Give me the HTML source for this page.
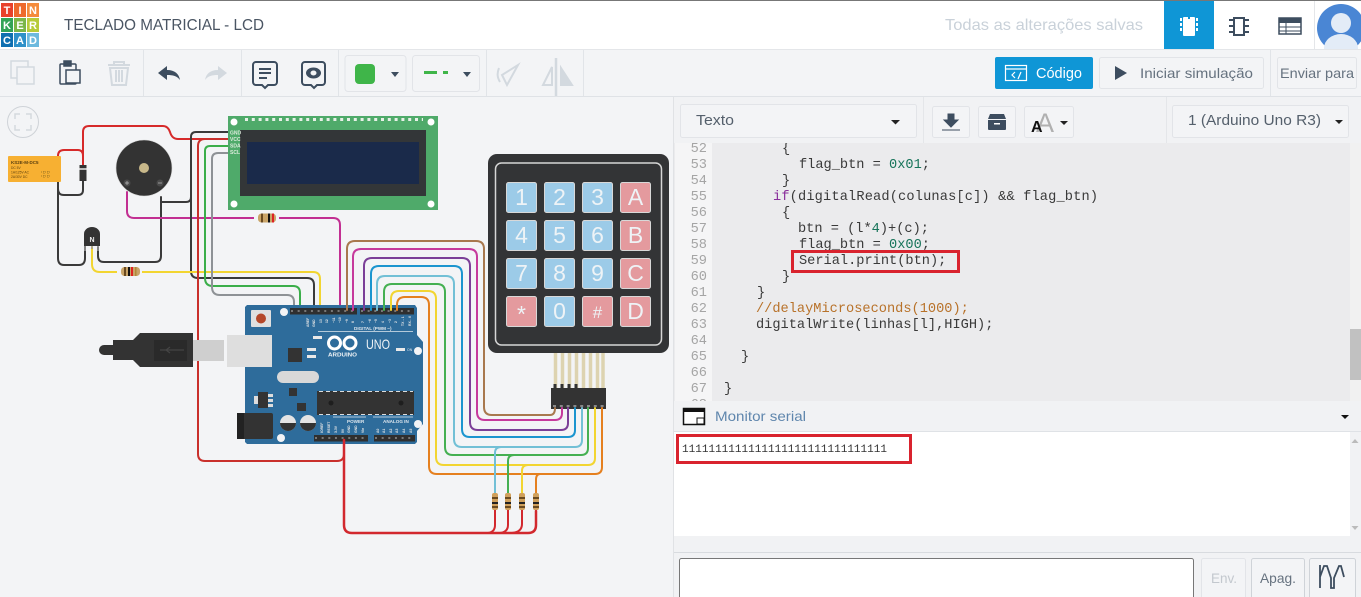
<!DOCTYPE html>
<html><head><meta charset="utf-8"><title>TECLADO MATRICIAL - LCD</title>
<style>
html,body{margin:0;padding:0;width:1361px;height:597px;overflow:hidden;background:#f3f4f6}
svg{display:block}
text{font-family:"Liberation Sans",sans-serif}
.m{font-family:"Liberation Mono",monospace;font-size:13.65px;fill:#3a3a3a;white-space:pre}
.n{font-family:"Liberation Mono",monospace;font-size:13.65px;fill:#a5a5a5;text-anchor:end}
.w{fill:none;stroke-width:2;stroke-linecap:round}
.b{fill:#f3f4f6;stroke:#e2e4e8;stroke-width:1}
.k{fill:#eef3f6;font-size:23px;text-anchor:middle;font-weight:400}
.t{fill:#e6e6e6;font-size:3.4px;font-weight:700}
.logo{fill:#fff;font-size:11px;font-weight:700;text-anchor:middle}
</style></head><body>
<svg width="1361" height="597" viewBox="0 0 1361 597" xmlns="http://www.w3.org/2000/svg">
<rect width="1361" height="597" fill="#f3f4f6"/>

<!-- header -->
<rect width="1361" height="49" fill="#fff"/>
<rect width="1361" height="1" fill="#777"/>
<rect x="0" y="49" width="1361" height="1" fill="#e4e6e9"/>
<g>
<rect x="1" y="3" width="12" height="14" fill="#e8412b"/><rect x="14" y="3" width="12" height="14" fill="#ee6a2c"/><rect x="27" y="3" width="12" height="14" fill="#f58b3b"/>
<rect x="1" y="18" width="12" height="14" fill="#33a357"/><rect x="14" y="18" width="12" height="14" fill="#7ab648"/><rect x="27" y="18" width="12" height="14" fill="#b7cb3a"/>
<rect x="1" y="33" width="12" height="14" fill="#0f6fb0"/><rect x="14" y="33" width="12" height="14" fill="#2f91c9"/><rect x="27" y="33" width="12" height="14" fill="#6cb9de"/>
<text class="logo" x="7" y="14">T</text><text class="logo" x="20" y="14">I</text><text class="logo" x="33" y="14">N</text>
<text class="logo" x="7" y="29">K</text><text class="logo" x="20" y="29">E</text><text class="logo" x="33" y="29">R</text>
<text class="logo" x="7" y="44">C</text><text class="logo" x="20" y="44">A</text><text class="logo" x="33" y="44">D</text>
</g>
<text x="64" y="30" font-size="16" fill="#4a5563" textLength="200" lengthAdjust="spacingAndGlyphs">TECLADO MATRICIAL - LCD</text>
<text x="945" y="30" font-size="16" fill="#c9d1d9" textLength="198" lengthAdjust="spacingAndGlyphs">Todas as alterações salvas</text>
<rect x="1164" y="1" width="50" height="48" fill="#0f96d6"/>
<g fill="#fff"><rect x="1183" y="17" width="12" height="19" rx="1"/><rect x="1180" y="18" width="2" height="3"/><rect x="1180" y="23" width="2" height="3"/><rect x="1180" y="28" width="2" height="3"/><rect x="1196" y="18" width="2" height="3"/><rect x="1196" y="23" width="2" height="3"/><rect x="1196" y="28" width="2" height="3"/></g>
<rect x="1188" y="17" width="2" height="2" fill="#0f96d6"/>
<g fill="none" stroke="#3d4d5f" stroke-width="2"><rect x="1234" y="18" width="10" height="17"/><path d="M1229 20h5M1229 26h5M1229 32h5M1244 20h5M1244 26h5M1244 32h5"/></g>
<g><rect x="1279" y="18" width="22" height="16" fill="#fff" stroke="#3d4d5f" stroke-width="1.5"/><rect x="1279" y="18" width="22" height="5" fill="#3d4d5f"/><path d="M1279 27h22M1279 31h22M1286 23v11" stroke="#3d4d5f"/></g>
<rect x="1314" y="1" width="1" height="48" fill="#e4e6e9"/>
<clipPath id="av"><rect x="1316" y="1" width="45" height="48"/></clipPath>
<g clip-path="url(#av)"><circle cx="1341" cy="28" r="24" fill="#4a86d4"/><circle cx="1341" cy="23" r="10" fill="#e3ecf7"/><ellipse cx="1341" cy="48" rx="17" ry="14" fill="#e3ecf7"/></g>

<!-- toolbar -->
<rect x="0" y="96" width="1361" height="1" fill="#dfe2e6"/>
<g fill="#e1e4e8"><rect x="143" y="50" width="1" height="46"/><rect x="241" y="50" width="1" height="46"/><rect x="338" y="50" width="1" height="46"/><rect x="486" y="50" width="1" height="46"/><rect x="583" y="50" width="1" height="46"/><rect x="1270" y="50" width="1" height="46"/></g>
<g fill="none" stroke="#d3d9df" stroke-width="1.5"><rect x="11" y="61" width="17" height="17"/><rect x="17" y="67" width="17" height="17" fill="#f3f4f6"/></g>
<g fill="none" stroke="#3d4d5f" stroke-width="1.5"><rect x="60" y="64" width="16" height="20" rx="1"/><rect x="66" y="70" width="14" height="13" fill="#f3f4f6"/><rect x="64" y="61" width="7" height="5" fill="#3d4d5f"/></g>
<g fill="none" stroke="#d3d9df" stroke-width="2"><path d="M108 65h22M114 65v-3h10v3"/><path d="M110 68l2 17h14l2-17zM116 70v12M119 70v12M122 70v12"/></g>
<path d="M158 73l9-7v4c8 0 12 4 13 10-3-4-7-5-13-5v5z" fill="#3d4d5f"/>
<path d="M227 73l-9-7v4c-8 0-12 4-13 10 3-4 7-5 13-5v5z" fill="#d3d9df"/>
<g fill="none" stroke="#3d4d5f" stroke-width="2"><path d="M256 62h18a3 3 0 0 1 3 3v17a3 3 0 0 1-3 3h-6l-3 3-3-3h-6a3 3 0 0 1-3-3v-17a3 3 0 0 1 3-3z"/><path d="M259 69h12M259 73h12M259 78h8"/></g>
<g fill="none" stroke="#3d4d5f" stroke-width="2"><path d="M305 62h17a3 3 0 0 1 3 3v17a3 3 0 0 1-3 3h-5l-3 3-3-3h-6a3 3 0 0 1-3-3v-17a3 3 0 0 1 3-3z"/></g>
<ellipse cx="313.500" cy="73" rx="7.500" ry="5.500" fill="#3d4d5f"/><ellipse cx="313.500" cy="73" rx="3" ry="2.500" fill="#f3f4f6"/>
<rect class="b" x="345" y="55.500" width="61" height="36" rx="3"/><rect x="355" y="64" width="20" height="20" rx="4" fill="#3fb549"/>
<path d="M391 72h8l-4 5z" fill="#3d4d5f"/>
<rect class="b" x="412.500" y="55.500" width="67" height="36" rx="3"/><rect x="424" y="71" width="13" height="3" fill="#3fb549"/><rect x="443" y="71" width="5" height="3" fill="#3fb549"/>
<path d="M463 72h8l-4 5z" fill="#3d4d5f"/>
<g fill="none" stroke="#d3d9df" stroke-width="2"><path d="M518 65l-11 20-5-10zM499 68c-2 5-2 9 1 14"/></g>
<g fill="none" stroke="#d3d9df" stroke-width="2"><path d="M556 58v38" stroke-width="2.500"/><path d="M552 67v18h-9z"/><path d="M561 68l11 17h-11z" fill="#d3d9df"/></g>
<rect x="995" y="57" width="98" height="32" rx="2" fill="#0f96d6"/>
<g fill="none" stroke="#fff" stroke-width="1.200"><rect x="1005.500" y="65.500" width="21" height="15"/><path d="M1005 69h22M1015 72l-3 3 3 3M1018 79l3-7"/></g>
<text x="1036" y="78" font-size="15" fill="#fff" textLength="46" lengthAdjust="spacingAndGlyphs">Código</text>
<rect class="b" x="1099.500" y="57.500" width="164" height="31" rx="2"/>
<path d="M1115 66l12 7-12 7z" fill="#3d4d5f"/>
<text x="1140" y="78" font-size="14" fill="#66727f" textLength="113" lengthAdjust="spacingAndGlyphs">Iniciar simulação</text>
<rect class="b" x="1277.500" y="57.500" width="79" height="31" rx="2"/>
<text x="1280" y="78" font-size="14" fill="#66727f" textLength="74" lengthAdjust="spacingAndGlyphs">Enviar para</text>

<!-- wires on canvas: left -->
<g class="wires">
<path class="w" stroke="#3a3a3a" d="M161 197V256Q161 262 155 262H104Q98 262 98 256V247"/>
<path class="w" stroke="#3a3a3a" d="M58 182V258Q58 265 64 265H79Q85 265 85 258V246"/>
<path class="w" stroke="#3a3a3a" d="M58 182V189Q58 195 64 195H78Q83 195 83 190V181"/>
<path class="w" stroke="#d62a2a" d="M58 156Q58 150 64 150H78Q83 150 83 156V165"/>
<path class="w" stroke="#d62a2a" d="M83 160V132Q83 126 89 126H163Q168 126 170 132Q172 139 178 139H228"/>
<path class="w" stroke="#c22f92" d="M127 192V211Q127 218 134 218H333Q340 218 340 225V308"/>
<path class="w" stroke="#3a3a3a" d="M161 202H186Q191 202 191 197V137Q191 132 196 132H228"/>
<path class="w" stroke="#3a3a3a" d="M191 197V271Q191 278 198 278H307Q314 278 314 285V308"/>
<path class="w" stroke="#f2d531" d="M92 247V264Q92 272 100 272H313Q320 272 320 279V308"/>
<path class="w" stroke="#3bae4a" d="M228 146H210Q205 146 205 151V278Q205 286 213 286H293Q300 286 300 293V308"/>
<path class="w" stroke="#8e9296" d="M228 153H218Q212 153 212 159V287Q212 295 220 295H287Q294 295 294 302V308"/>
<path class="w" stroke="#c9302c" d="M228 139H205Q198 139 198 146V454Q198 461 205 461H337Q344 461 344 454V440"/>
</g>

<!-- relay, diode, buzzer, transistor -->
<rect x="8" y="156" width="53" height="26" rx="1" fill="#f7b032"/>
<text x="11" y="164" font-size="4.500" font-weight="700" fill="#5c4110">KS2E-M-DC5</text>
<text x="11" y="169" font-size="3.300" fill="#5c4110">DC 5V</text><text x="11" y="173.500" font-size="3.300" fill="#5c4110">1A/125V AC</text><text x="11" y="178" font-size="3.300" fill="#5c4110">2A/30V DC</text>
<path d="M41 172h10M41 176h10M44 171v7M48 171v7" stroke="#8a6a20" stroke-width=".7" fill="none" stroke-dasharray="1 1"/>
<rect x="79.500" y="165" width="7" height="16" fill="#333"/><rect x="79.500" y="168" width="7" height="2" fill="#bbb"/>
<circle cx="144" cy="168" r="28" fill="#333" stroke="#d5d5d5" stroke-width=".6"/>
<circle cx="144" cy="168" r="5" fill="#c8b88a"/>
<circle cx="127" cy="183" r="3.500" fill="#4a4a4a"/><path d="M125 183h4M127 181v4" stroke="#bbb" stroke-width=".7"/>
<circle cx="160" cy="183" r="3.500" fill="#4a4a4a"/><path d="M158 183h4" stroke="#bbb" stroke-width=".7"/>
<path d="M84 246V234a8 7 0 0 1 16 0v12z" fill="#333"/>
<text x="92" y="242" font-size="7" font-weight="700" fill="#eee" text-anchor="middle">N</text>
<path d="M85 246v5M92 246v3M98 246v5" stroke="#999" stroke-width="1.500"/>
<g><rect x="117" y="270.500" width="25" height="3.500" fill="#f3f4f6"/><rect x="121" y="267" width="19" height="9" rx="3.500" fill="#c9a468"/><rect x="124" y="267" width="2" height="9" fill="#6a4a20"/><rect x="128" y="267" width="2" height="9" fill="#111"/><rect x="131" y="267" width="2" height="9" fill="#d22"/><rect x="135" y="267" width="1.500" height="9" fill="#b08a3a"/></g>
<g><rect x="254" y="216" width="25" height="4" fill="#f3f4f6"/><rect x="258" y="213.500" width="18" height="9" rx="3.500" fill="#c9a468"/><rect x="261" y="213.500" width="2" height="9" fill="#6a4a20"/><rect x="268" y="213.500" width="2" height="9" fill="#111"/><rect x="272" y="213.500" width="2" height="9" fill="#d22"/></g>

<!-- fit icon -->
<circle cx="23" cy="122" r="15.500" fill="#f3f4f6" stroke="#cfd3d8"/>
<path d="M15 119v-5h5M26 114h5v5M31 125v5h-5M20 130h-5v-5" fill="none" stroke="#d5d9dd" stroke-width="1.500"/>

<!-- LCD -->
<rect x="228" y="116" width="210" height="94" fill="#4faa6a"/>
<circle cx="234" cy="122" r="3.500" fill="#fff"/><circle cx="234" cy="204" r="3.500" fill="#fff"/><circle cx="431" cy="122" r="3.500" fill="#fff"/><circle cx="431" cy="204" r="3.500" fill="#fff"/>
<rect x="240" y="130" width="186" height="66" fill="#333638"/>
<rect x="247" y="142" width="172" height="42" fill="#1a2a4a"/>
<path d="M245 119.500H423" stroke="#e8f0e8" stroke-width="3" stroke-dasharray="3 3.800"/>
<g font-size="5" font-weight="700" fill="#dcebdc"><text x="230" y="134.500">GND</text><text x="230" y="141">VCC</text><text x="230" y="147.500">SDA</text><text x="230" y="154">SCL</text></g>

<!-- USB -->
<path d="M104 345H113V340H133L140 333H193V367H140L133 360H113V355H104A5 5 0 0 1 104 345z" fill="#333"/>
<rect x="154" y="340" width="33" height="21" fill="#2a2a2a"/>
<path d="M160 350h24M170 347l-4 3 4 3" stroke="#444" stroke-width="1.200" fill="none"/>
<rect x="193" y="340" width="31" height="21" fill="#cfcfcf"/>

<!-- Arduino -->
<path d="M247 305H415L417 308V335L423 342V424L417 431V442L415 444H247L245 442V307z" fill="#2e6c9b"/>
<rect x="227" y="335" width="45" height="32" fill="#dedede"/>
<rect x="237" y="413" width="36" height="26" rx="2" fill="#333"/><rect x="237" y="413" width="7" height="26" fill="#222"/>
<rect x="251" y="310" width="20" height="17" rx="1" fill="#e0e0e0"/><circle cx="261" cy="318.500" r="5" fill="#b5482a"/>
<circle cx="284" cy="312" r="4" fill="#f3f4f6"/><circle cx="281" cy="438" r="4" fill="#f3f4f6"/><circle cx="418" cy="351" r="4" fill="#f3f4f6"/><circle cx="418" cy="424" r="4" fill="#f3f4f6"/>
<rect x="290" y="308" width="67" height="6.500" fill="#2f2f2f"/><rect x="360" y="308" width="54" height="6.500" fill="#2f2f2f"/>
<path d="M291 311h65M361 311h52" stroke="#777" stroke-width="2" stroke-dasharray="2 4.650"/>
<rect x="314" y="435" width="54" height="6.500" fill="#2f2f2f"/><rect x="374" y="435" width="41" height="6.500" fill="#2f2f2f"/>
<path d="M315 438h52M375 438h39" stroke="#777" stroke-width="2" stroke-dasharray="2 4.650"/>
<rect x="288" y="348" width="14" height="14" fill="#333"/>
<rect x="277" y="371" width="42" height="12" rx="6" fill="#d8d8d8"/>
<rect x="289" y="388" width="8" height="8" fill="#333"/>
<rect x="258" y="392" width="10" height="16" fill="#333"/><rect x="254" y="396" width="4" height="8" fill="#ddd"/><rect x="268" y="394" width="5" height="3" fill="#ddd"/><rect x="268" y="399" width="5" height="3" fill="#ddd"/><rect x="268" y="404" width="5" height="3" fill="#ddd"/>
<rect x="297" y="403" width="9" height="8" fill="#333"/>
<circle cx="288" cy="423" r="8" fill="#e4e4e4"/><path d="M280 423a8 8 0 0 0 16 0z" fill="#333"/><circle cx="308" cy="423" r="8" fill="#e4e4e4"/><path d="M300 423a8 8 0 0 0 16 0z" fill="#333"/>
<rect x="317" y="391" width="97" height="24" fill="#333"/>
<path d="M319 391.500h94M319 414.500h94" stroke="#ddd" stroke-dasharray="4 3"/>
<circle cx="331" cy="403" r="2.500" fill="#1e1e1e"/><circle cx="401" cy="403" r="2.500" fill="#1e1e1e"/>
<g fill="#e9e9e9"><rect x="313" y="336" width="9" height="3"/><rect x="307" y="348" width="9" height="3"/><rect x="307" y="355" width="9" height="3"/><rect x="396" y="348" width="9" height="3"/></g>
<path d="M318 331.500H413M333 417H366M373 417H413" stroke="#dfe7ee" stroke-width=".8"/>
<g fill="none" stroke="#fff" stroke-width="3"><circle cx="334.500" cy="343" r="6"/><circle cx="350" cy="343" r="6"/></g>
<text x="328" y="356.500" font-size="5.500" font-weight="700" fill="#f0f4f7" textLength="29" lengthAdjust="spacingAndGlyphs">ARDUINO</text>
<text x="366" y="349" font-size="14" fill="#eef3f6" textLength="24" lengthAdjust="spacingAndGlyphs">UNO</text>
<text x="354" y="330" font-size="4.600" font-weight="700" fill="#dfe7ee">DIGITAL (PWM ~)</text>
<text x="347" y="423" font-size="4.600" font-weight="700" fill="#dfe7ee">POWER</text>
<text x="383" y="423" font-size="4.600" font-weight="700" fill="#dfe7ee">ANALOG IN</text>
<text x="407" y="351" font-size="3.500" fill="#dfe7ee">ON</text>
<g class="t">
<text transform="translate(309 327) rotate(-90)">AREF</text><text transform="translate(315 327) rotate(-90)">GND</text><text transform="translate(322 323) rotate(-90)">13</text><text transform="translate(328 323) rotate(-90)">12</text><text transform="translate(335 323) rotate(-90)">~11</text><text transform="translate(341 323) rotate(-90)">~10</text><text transform="translate(348 323) rotate(-90)">~9</text><text transform="translate(354 323) rotate(-90)">8</text><text transform="translate(364 323) rotate(-90)">7</text><text transform="translate(371 323) rotate(-90)">~6</text><text transform="translate(377 323) rotate(-90)">~5</text><text transform="translate(384 323) rotate(-90)">4</text><text transform="translate(391 323) rotate(-90)">~3</text><text transform="translate(397 323) rotate(-90)">2</text><text transform="translate(404 326) rotate(-90)">TX→1</text><text transform="translate(411 326) rotate(-90)">RX←0</text>
<text transform="translate(323 433) rotate(-90)">IOREF</text><text transform="translate(330 433) rotate(-90)">RESET</text><text transform="translate(337 433) rotate(-90)">3.3V</text><text transform="translate(344 433) rotate(-90)">5V</text><text transform="translate(350 433) rotate(-90)">GND</text><text transform="translate(357 433) rotate(-90)">GND</text><text transform="translate(364 433) rotate(-90)">Vin</text>
<text transform="translate(379 433) rotate(-90)">A0</text><text transform="translate(385 433) rotate(-90)">A1</text><text transform="translate(392 433) rotate(-90)">A2</text><text transform="translate(398 433) rotate(-90)">A3</text><text transform="translate(405 433) rotate(-90)">A4</text><text transform="translate(412 433) rotate(-90)">A5</text>
</g>

<!-- Keypad -->
<rect x="553" y="352" width="51" height="37" fill="#f3f4f6"/>
<path d="M555.500 353V388M562.500 353V388M569.500 353V388M576.500 353V388M583.500 353V388M590.500 353V388M597.500 353V388M603 353V388" stroke="#ddd3b0" stroke-width="3.500"/>
<rect x="488" y="154" width="181" height="199" rx="9" fill="#333436"/>
<rect x="495.500" y="163" width="166" height="182" rx="6" fill="none" stroke="#d6d6d6" stroke-width="1.500"/>
<g stroke="#d8d8d8" stroke-width="1">
<rect x="506.500" y="182.500" width="30" height="30" rx="2" fill="#9ccbe8"/><rect x="544.500" y="182.500" width="30" height="30" rx="2" fill="#9ccbe8"/><rect x="582.500" y="182.500" width="30" height="30" rx="2" fill="#9ccbe8"/><rect x="620.500" y="182.500" width="30" height="30" rx="2" fill="#e49a9e"/>
<rect x="506.500" y="220.500" width="30" height="30" rx="2" fill="#9ccbe8"/><rect x="544.500" y="220.500" width="30" height="30" rx="2" fill="#9ccbe8"/><rect x="582.500" y="220.500" width="30" height="30" rx="2" fill="#9ccbe8"/><rect x="620.500" y="220.500" width="30" height="30" rx="2" fill="#e49a9e"/>
<rect x="506.500" y="258.500" width="30" height="30" rx="2" fill="#9ccbe8"/><rect x="544.500" y="258.500" width="30" height="30" rx="2" fill="#9ccbe8"/><rect x="582.500" y="258.500" width="30" height="30" rx="2" fill="#9ccbe8"/><rect x="620.500" y="258.500" width="30" height="30" rx="2" fill="#e49a9e"/>
<rect x="506.500" y="296.500" width="30" height="30" rx="2" fill="#e49a9e"/><rect x="544.500" y="296.500" width="30" height="30" rx="2" fill="#9ccbe8"/><rect x="582.500" y="296.500" width="30" height="30" rx="2" fill="#e49a9e"/><rect x="620.500" y="296.500" width="30" height="30" rx="2" fill="#e49a9e"/>
</g>
<g><text class="k" x="521.500" y="205">1</text><text class="k" x="559.500" y="205">2</text><text class="k" x="597.500" y="205">3</text><text class="k" x="635.500" y="205">A</text>
<text class="k" x="521.500" y="243">4</text><text class="k" x="559.500" y="243">5</text><text class="k" x="597.500" y="243">6</text><text class="k" x="635.500" y="243">B</text>
<text class="k" x="521.500" y="281">7</text><text class="k" x="559.500" y="281">8</text><text class="k" x="597.500" y="281">9</text><text class="k" x="635.500" y="281">C</text>
<text class="k" x="521.500" y="322">*</text><text class="k" x="559.500" y="319">0</text><text class="k" x="597.500" y="318" style="font-size:17px">#</text><text class="k" x="635.500" y="319">D</text></g>
<rect x="551" y="388" width="55" height="21" fill="#333"/>
<path d="M555 388v-4M562 388v-4M569 388v-4M576 388v-4" stroke="#333" stroke-width="3"/>
<path d="M553 406H604" stroke="#888" stroke-width="2" stroke-dasharray="3 3.800"/>

<!-- wires on canvas: Arduino to keypad -->
<path class="w" stroke="#a8784e" d="M347 310V249Q347 241 355 241H476Q484 241 484 249V407Q484 415 492 415H550Q555 415 555 408"/>
<path class="w" stroke="#c63a9c" d="M353 310V257Q353 249 361 249H469Q477 249 477 257V412Q477 420 485 420H555Q562 420 562 413V408"/>
<path class="w" stroke="#7b3f98" d="M364 310V266Q364 258 372 258H462Q470 258 470 266V422Q470 430 478 430H561Q568 430 568 423V408"/>
<path class="w" stroke="#1b95cf" d="M371 310V274Q371 266 379 266H454Q462 266 462 274V429Q462 437 470 437H568Q575 437 575 430V408"/>
<path class="w" stroke="#72c0d6" d="M377 310V284Q377 276 385 276H446Q454 276 454 284V439Q454 447 462 447H575Q582 447 582 440V408"/>
<path class="w" stroke="#45b052" d="M384 310V292Q384 284 392 284H437Q445 284 445 292V447Q445 455 453 455H581Q588 455 588 448V408"/>
<path class="w" stroke="#f2d531" d="M391 310V299Q391 291 399 291H428Q436 291 436 299V457Q436 465 444 465H588Q595 465 595 458V408"/>
<path class="w" stroke="#e5801f" d="M397 310V305Q397 297 405 297H421Q429 297 429 305V466Q429 474 437 474H595Q602 474 602 467V408"/>
<path class="w" stroke="#72c0d6" d="M495 493V453Q495 447 501 447H510"/>
<path class="w" stroke="#45b052" d="M508 493V461Q508 455 514 455H522"/>
<path class="w" stroke="#f2d531" d="M522 493V471Q522 465 528 465H534"/>
<path class="w" stroke="#e5801f" d="M536 493V480Q536 474 540 474"/>
<path class="w" stroke="#d2282e" d="M344 440V525Q344 533 352 533H528Q536 533 536 525V511" style="stroke-width:2.500"/>
<path class="w" stroke="#d2282e" d="M495 510V525Q495 532 488 533M508 510V525Q508 532 500 533M522 510V524Q522 532 512 533"/>
<g>
<rect x="492" y="493" width="6" height="17" rx="2" fill="#cfa05c"/><rect x="492" y="497" width="6" height="2" fill="#6a4a20"/><rect x="492" y="502" width="6" height="2" fill="#222"/><rect x="492" y="506" width="6" height="2" fill="#6a4a20"/>
<rect x="505" y="493" width="6" height="17" rx="2" fill="#cfa05c"/><rect x="505" y="497" width="6" height="2" fill="#6a4a20"/><rect x="505" y="502" width="6" height="2" fill="#222"/><rect x="505" y="506" width="6" height="2" fill="#6a4a20"/>
<rect x="519" y="493" width="6" height="17" rx="2" fill="#cfa05c"/><rect x="519" y="497" width="6" height="2" fill="#6a4a20"/><rect x="519" y="502" width="6" height="2" fill="#222"/><rect x="519" y="506" width="6" height="2" fill="#6a4a20"/>
<rect x="533" y="493" width="6" height="17" rx="2" fill="#cfa05c"/><rect x="533" y="497" width="6" height="2" fill="#6a4a20"/><rect x="533" y="502" width="6" height="2" fill="#222"/><rect x="533" y="506" width="6" height="2" fill="#6a4a20"/>
</g>

<!-- right panel -->
<rect x="673" y="97" width="688" height="500" fill="#f1f2f4"/>
<rect x="673" y="97" width="1" height="500" fill="#e0e2e5"/>
<rect x="923" y="97" width="1" height="46" fill="#e4e6e9"/><rect x="1166" y="97" width="1" height="46" fill="#e4e6e9"/>
<rect class="b" x="680.500" y="104.500" width="236" height="33" rx="2"/>
<text x="696" y="125" font-size="15" fill="#55606c" textLength="38" lengthAdjust="spacingAndGlyphs">Texto</text>
<path d="M891 120h9l-4.500 4.500z" fill="#222"/>
<rect class="b" x="932.500" y="106.500" width="37" height="31" rx="2"/>
<path d="M948 114h6v6h4l-7 7-7-7h4zM942 130h18" fill="#3d4d5f" stroke="#3d4d5f" stroke-width="1"/>
<rect class="b" x="978.500" y="106.500" width="37" height="31" rx="2"/>
<path d="M990 114h14l2 5h-18zM988 120h18v9a1 1 0 0 1-1 1h-16a1 1 0 0 1-1-1z" fill="#3d4d5f"/><rect x="994" y="123" width="6" height="1.500" fill="#fff"/>
<rect class="b" x="1024.500" y="106.500" width="49" height="31" rx="2"/>
<text x="1036" y="132" font-size="27" fill="#b0b0b0">A</text><text x="1031" y="132" font-size="16" font-weight="700" fill="#111">A</text>
<path d="M1060 121h8l-4 4z" fill="#222"/>
<rect class="b" x="1172.500" y="105.500" width="176" height="32" rx="2"/>
<text x="1188" y="125" font-size="14.500" fill="#55606c" textLength="133" lengthAdjust="spacingAndGlyphs">1 (Arduino Uno R3)</text>
<path d="M1335 120h8l-4 4z" fill="#222"/>

<!-- code -->
<rect x="674" y="143" width="677" height="258" fill="#ebebed"/>
<rect x="675" y="143" width="37" height="258" fill="#f5f5f6"/>
<rect x="1350" y="143" width="11" height="258" fill="#f1f1f1"/><rect x="1350" y="329" width="11" height="51" fill="#c1c1c1"/>
<clipPath id="code"><rect x="674" y="143" width="676" height="258"/></clipPath>
<g clip-path="url(#code)">
<text class="n" x="707" y="152">52</text><text class="n" x="707" y="168">53</text><text class="n" x="707" y="184">54</text><text class="n" x="707" y="200">55</text><text class="n" x="707" y="216">56</text><text class="n" x="707" y="232">57</text><text class="n" x="707" y="248">58</text><text class="n" x="707" y="264">59</text><text class="n" x="707" y="280">60</text><text class="n" x="707" y="296">61</text><text class="n" x="707" y="312">62</text><text class="n" x="707" y="328">63</text><text class="n" x="707" y="344">64</text><text class="n" x="707" y="360">65</text><text class="n" x="707" y="376">66</text><text class="n" x="707" y="392">67</text><text class="n" x="707" y="408">68</text>
<text class="m" x="782" y="152">{</text>
<text class="m" x="799" y="168">flag_btn = <tspan fill="#17745a">0x01</tspan>;</text>
<text class="m" x="782" y="184">}</text>
<text class="m" x="773" y="200" textLength="325"><tspan fill="#8a2f9c">if</tspan>(digitalRead(colunas[c]) &amp;&amp; flag_btn)</text>
<text class="m" x="782" y="216">{</text>
<text class="m" x="798" y="232">btn = (l*<tspan fill="#17745a">4</tspan>)+(c);</text>
<text class="m" x="799" y="248">flag_btn = <tspan fill="#17745a">0x00</tspan>;</text>
<text class="m" x="799" y="264">Serial.print(btn);</text>
<text class="m" x="782" y="280">}</text>
<text class="m" x="757" y="296">}</text>
<text class="m" x="756" y="312" style="fill:#b8722a">//delayMicroseconds(1000);</text>
<text class="m" x="756" y="328">digitalWrite(linhas[l],HIGH);</text>
<text class="m" x="741" y="360">}</text>
<text class="m" x="724" y="392">}</text>
</g>
<rect x="792.500" y="251.500" width="166" height="20" fill="none" stroke="#d9232e" stroke-width="3"/>

<!-- monitor -->
<rect x="674" y="401" width="687" height="30" fill="#f1f2f4"/>
<rect x="674" y="431" width="687" height="1" fill="#dfe2e6"/>
<rect x="683.500" y="408.500" width="21" height="16" fill="#fff" stroke="#111" stroke-width="1.500"/><rect x="683" y="408" width="22" height="4" fill="#111"/><rect x="697" y="418" width="7" height="6" fill="none" stroke="#111"/>
<text x="715" y="421" font-size="14" fill="#5f86ad" textLength="91" lengthAdjust="spacingAndGlyphs">Monitor serial</text>
<path d="M1341 415h8l-4 4z" fill="#111"/>
<rect x="674" y="432" width="676" height="104" fill="#fff"/>
<rect x="1350" y="432" width="11" height="104" fill="#f1f2f4"/>
<path d="M1355 439l-3.500 4h7zM1355 530l-3.500-4h7z" fill="#bbb"/>
<text x="682" y="452" font-size="11" fill="#333" textLength="205" lengthAdjust="spacingAndGlyphs" style="font-family:'Liberation Mono',monospace">1111111111111111111111111111111</text>
<rect x="677.500" y="435.500" width="233" height="27" fill="none" stroke="#d9232e" stroke-width="3"/>
<rect x="674" y="552" width="687" height="1" fill="#d8dbdf"/>
<rect x="679.500" y="558.500" width="514" height="40" rx="2" fill="#fff" stroke="#777"/>
<rect class="b" x="1201.500" y="558.500" width="44" height="40" rx="2"/>
<text x="1211" y="583" font-size="14" fill="#c3c8ce" textLength="26" lengthAdjust="spacingAndGlyphs">Env.</text>
<rect x="1251.500" y="558.500" width="53" height="40" rx="2" fill="#f3f4f6" stroke="#cfd3d8"/>
<text x="1260" y="583" font-size="14" fill="#66727f" textLength="36" lengthAdjust="spacingAndGlyphs">Apag.</text>
<rect x="1309.500" y="558.500" width="46" height="40" rx="2" fill="#f3f4f6" stroke="#cfd3d8"/>
<path d="M1320 565V588M1320 577L1324 566H1327L1331 578V588H1334V578L1339 566H1341L1344 577" fill="none" stroke="#3d4d5f" stroke-width="1.800"/>
</svg>
</body></html>
